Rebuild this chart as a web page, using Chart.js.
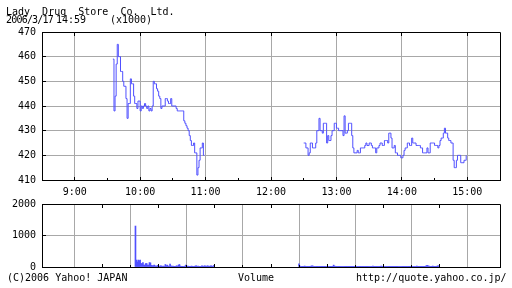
<!DOCTYPE html>
<html>
<head>
<meta charset="utf-8">
<script src="https://cdn.jsdelivr.net/npm/chart.js@4"></script>
<style>
  html, body { margin: 0; padding: 0; background: #fff; }
  #wrap { position: relative; width: 512px; height: 288px; overflow: hidden; font: 10px "DejaVu Sans Mono", monospace; color: #000; }
  #wrap canvas { position: absolute; left: 0; top: 0; }
  .txt { position: absolute; line-height: 10px; white-space: pre; }
</style>
</head>
<body>
<div id="wrap">
  <canvas id="price-chart" width="512" height="288"></canvas>
  <canvas id="volume-chart" width="512" height="288"></canvas>
  <div class="txt" style="left:6px;top:6.5px">Lady  Drug  Store  Co.  Ltd.</div>
  <div class="txt" style="left:6px;top:14.5px;letter-spacing:-0.8px">2006/3/17</div>
  <div class="txt" style="left:56px;top:14.5px">14:59</div>
  <div class="txt" style="left:110px;top:14.5px">(x1000)</div>
  <div class="txt" style="left:7px;top:272.5px">(C)2006 Yahoo! JAPAN</div>
  <div class="txt" style="left:238px;top:272.5px">Volume</div>
  <div class="txt" style="left:356px;top:272.5px">http://quote.yahoo.co.jp/</div>
</div>
<script>
// ticks (minutes from midnight for the time axis)
const priceTicks = [410, 420, 430, 440, 450, 460, 470];
const volumeTicks = [0, 1000, 2000];
const hourTicks = [540, 600, 660, 720, 780, 840, 900];
const halfHourTicks = [570, 630, 690, 750, 810, 870];

// morning session, one value per minute from 9:35
const amStart = 575;
const amPrices = [
    459, 438, 444, 457, 465, 460, 460, 454, 454, 450,
    448, 448, 443, 435, 441, 441, 451, 449, 449, 444,
    441, 441, 439, 442, 442, 438, 440, 439, 440, 441,
    440, 439, 440, 438, 439, 438, 440, 450, 449, 449,
    447, 446, 444, 443, 439, 440, 440, 440, 443, 443,
    442, 441, 441, 443, 440, 440, 440, 440, 439, 438,
    438, 438, 438, 438, 438, 434, 433, 432, 431, 430,
    428, 426, 424, 424, 425, 421, 421, 412, 415, 418,
    423, 423, 425, 420, 420
];
const amVolumes = [
    1300, 220, 160, 220, 200, 220, 110, 110, 140, 60,
    60, 110, 110, 60, 60, 140, 130, 50, 40, 40,
    60, 30, 40, 20, 50, 30, 20, 40, 30, 20,
    30, 20, 80, 40, 60, 30, 20, 90, 40, 20,
    30, 20, 10, 20, 40, 20, 60, 80, 30, 20,
    10, 20, 10, 30, 60, 10, 30, 20, 10, 20,
    30, 10, 20, 20, 30, 40, 20, 30, 20, 10,
    20, 40, 30, 20, 40, 30, 20, 40, 30, 20,
    30, 40, 20, 30, 50
];

// afternoon session, one value per minute from 12:30
const pmStart = 750;
const pmPrices = [
    425, 425, 423, 423, 420, 421, 425, 425, 423, 423,
    423, 425, 430, 430, 435, 430, 430, 429, 433, 433,
    433, 425, 428, 426, 426, 428, 430, 430, 433, 433,
    431, 431, 430, 430, 430, 430, 428, 436, 429, 429,
    430, 433, 433, 433, 428, 423, 421, 421, 421, 422,
    421, 421, 423, 423, 423, 423, 424, 425, 424, 424,
    425, 425, 424, 423, 423, 423, 421, 423, 423, 424,
    425, 425, 424, 424, 426, 426, 426, 425, 429, 429,
    427, 423, 423, 424, 421, 421, 420, 420, 420, 419,
    419, 420, 422, 423, 423, 425, 425, 424, 424, 427,
    425, 425, 425, 424, 424, 424, 424, 423, 423, 421,
    421, 421, 421, 423, 421, 421, 425, 425, 425, 425,
    424, 424, 424, 423, 424, 426, 427, 427, 429, 431,
    429, 429, 427, 426, 426, 425, 425, 418, 415, 415,
    418, 420, 420, 420, 417, 417, 417, 418, 418, 420
];
const pmVolumes = [
    100, 30, 20, 20, 10, 20, 30, 10, 20, 10,
    20, 10, 20, 30, 40, 30, 20, 10, 20, 10,
    10, 20, 10, 20, 10, 10, 20, 10, 10, 20,
    10, 10, 20, 10, 10, 20, 10, 60, 30, 20,
    10, 20, 10, 10, 20, 10, 10, 10, 20, 10,
    10, 10, 20, 10, 10, 20, 10, 10, 10, 20,
    10, 10, 10, 20, 10, 10, 10, 20, 10, 10,
    20, 10, 10, 10, 20, 10, 10, 10, 20, 30,
    10, 20, 10, 10, 10, 20, 10, 10, 30, 10,
    10, 20, 10, 10, 10, 20, 10, 10, 20, 10,
    10, 10, 20, 10, 10, 10, 20, 10, 10, 20,
    10, 10, 10, 20, 10, 10, 20, 10, 10, 10,
    20, 10, 10, 20, 10, 10, 30, 10, 10, 20,
    10, 10, 20, 10, 10, 20, 40, 50, 40, 30,
    20, 10, 20, 30, 10, 20, 10, 20, 30, 40
];

const font = { family: '"DejaVu Sans Mono", monospace', size: 10 };
const blue = '#5050ff';
const gridGray = '#a8a8a8';

function toPoints(start, values) {
    return values.map((v, i) => ({ x: start + i, y: v }));
}

const pricePoints = [
    ...toPoints(amStart, amPrices),
    { x: amStart + amPrices.length, y: null },
    ...toPoints(pmStart, pmPrices)
];
const volumePoints = [...toPoints(amStart, amVolumes), ...toPoints(pmStart, pmVolumes)];

// black frame plus the short inner ticks
const frame = {
    id: 'frame',
    afterDraw(chart) {
        const { ctx, chartArea: a, scales } = chart;
        const al = v => Math.round(v - 0.5) + 0.5;
        const left = Math.round(a.left), bottom = Math.round(a.bottom), top = Math.round(a.top);
        ctx.save();
        ctx.strokeStyle = '#000';
        ctx.lineWidth = 1;
        ctx.beginPath();
        ctx.rect(al(a.left), al(a.top), al(a.right) - al(a.left), al(a.bottom) - al(a.top));
        scales.y.ticks.forEach(t => {
            const y = al(scales.y.getPixelForValue(t.value));
            ctx.moveTo(left, y);
            ctx.lineTo(left + 4, y);
        });
        hourTicks.forEach(v => {
            const x = al(scales.x.getPixelForValue(v));
            ctx.moveTo(x, bottom + 1);
            ctx.lineTo(x, bottom - 3);
            ctx.moveTo(x, top);
            ctx.lineTo(x, top + 4);
        });
        halfHourTicks.forEach(v => {
            const x = al(scales.x.getPixelForValue(v));
            ctx.moveTo(x, bottom + 1);
            ctx.lineTo(x, bottom - 2);
        });
        ctx.stroke();
        ctx.restore();
    }
};

function timeAxis(showLabels) {
    return {
        type: 'linear',
        min: 510,
        max: 930,
        afterBuildTicks: s => { s.ticks = hourTicks.map(v => ({ value: v })); },
        afterFit: s => { s.height = showLabels ? 20 : 0; },
        grid: { color: gridGray, drawTicks: false },
        border: { color: '#000' },
        ticks: {
            display: showLabels,
            padding: 6,
            color: '#000',
            font: font,
            maxRotation: 0,
            autoSkip: false,
            callback: v => `${Math.floor(v / 60)}:00`
        }
    };
}

function valueAxis(min, max, tickValues) {
    return {
        min: min,
        max: max,
        afterBuildTicks: s => { s.ticks = tickValues.map(v => ({ value: v })); },
        afterFit: s => { s.width = 42; },
        grid: { color: gridGray, drawTicks: false },
        border: { color: '#000' },
        ticks: { padding: 6, color: '#000', font: font, callback: v => String(v) }
    };
}

new Chart(document.getElementById('price-chart'), {
    type: 'line',
    data: {
        datasets: [{
            data: pricePoints,
            borderColor: blue,
            borderWidth: 1,
            stepped: 'before',
            pointRadius: 0,
            spanGaps: false,
            fill: false
        }]
    },
    options: {
        responsive: false,
        animation: false,
        devicePixelRatio: 1,
        layout: { padding: { top: 32, right: 12, bottom: 88, left: 0 } },
        plugins: { legend: { display: false }, tooltip: { enabled: false } },
        scales: {
            x: timeAxis(true),
            y: valueAxis(410, 470, priceTicks)
        }
    },
    plugins: [frame]
});

new Chart(document.getElementById('volume-chart'), {
    type: 'bar',
    data: {
        datasets: [{
            data: volumePoints,
            backgroundColor: blue,
            barThickness: 1
        }]
    },
    options: {
        responsive: false,
        animation: false,
        devicePixelRatio: 1,
        layout: { padding: { top: 204, right: 12, bottom: 21, left: 0 } },
        plugins: { legend: { display: false }, tooltip: { enabled: false } },
        scales: {
            x: timeAxis(false),
            y: valueAxis(0, 2000, volumeTicks)
        }
    },
    plugins: [frame]
});
</script>
</body>
</html>
